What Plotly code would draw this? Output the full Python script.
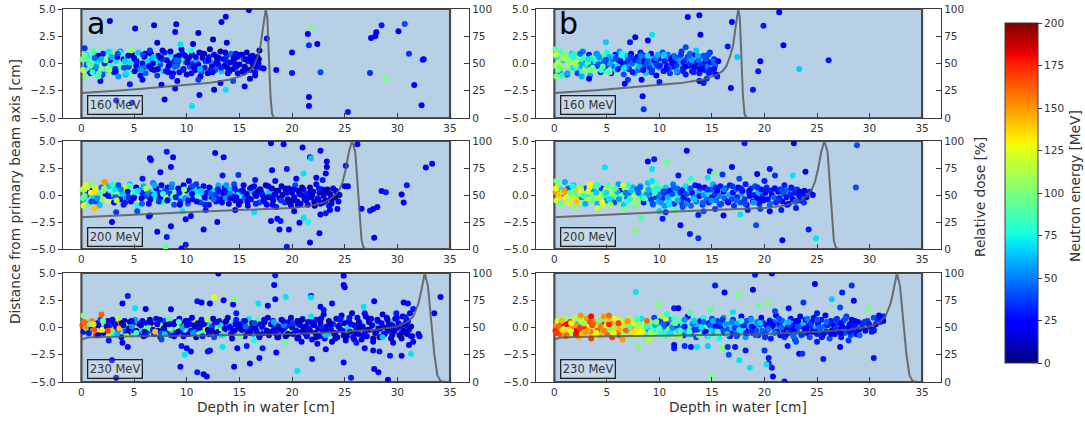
import plotly.graph_objects as go

W, H = 1085, 424
FONT = "DejaVu Sans"

# ---------------- dose curves (relative dose, %) ----------------
dose_x160 = [0, 2, 4, 6, 8, 10, 12, 13, 14, 15, 15.5, 16, 16.4, 16.7, 17.0, 17.2, 17.35, 17.5, 17.65, 17.8, 17.95, 18.1, 18.25, 18.5, 20, 35]
dose_160 = [23, 24, 25.5, 27, 28.5, 30, 32, 33.5, 35, 38, 40, 43, 48, 56, 66, 80, 92, 100, 92, 55, 20, 4, 0.5, 0, 0, 0]
dose_x200 = [0, 2, 5, 10, 15, 18, 20, 21, 22, 23, 23.5, 24, 24.5, 24.8, 25.1, 25.4, 25.7, 26.0, 26.2, 26.4, 26.6, 26.8, 27, 35]
dose_200 = [29.5, 30.5, 31.5, 34, 36, 37, 38, 39, 40.5, 43, 45.5, 49, 55, 62, 74, 90, 100, 90, 62, 30, 8, 1, 0, 0]
dose_x230 = [0, 0.5, 1, 3, 5, 10, 15, 20, 25, 28, 29, 30, 30.5, 31, 31.5, 32, 32.3, 32.6, 32.9, 33.2, 33.5, 33.8, 34.1, 34.5, 35]
dose_230 = [39, 40.5, 41, 41.5, 42, 42.5, 43, 44, 46, 48, 49.5, 51, 53, 55.5, 60, 72, 85, 100, 88, 60, 26, 6, 1, 0, 0]

# ---------------- (a) 160 MeV ----------------
a160_bx = [0.1, 0.2, 0.3, 0.5, 0.6, 0.8, 0.9, 1.0, 1.2, 1.3,
           1.5, 1.6, 1.8, 1.9, 2.1, 2.2, 2.4, 2.5, 2.7, 2.8,
           3.0, 3.1, 3.3, 3.4, 3.6, 3.7, 3.9, 4.0, 4.2, 4.3,
           4.5, 4.6, 4.8, 4.9, 5.1, 5.2, 5.4, 5.5, 5.7, 5.8,
           6.0, 6.1, 6.3, 6.4, 6.6, 6.7, 6.9, 7.0, 7.2, 7.3,
           7.5, 7.6, 7.8, 7.9, 8.1, 8.2, 8.4, 8.5, 8.7, 8.8,
           9.0, 9.1, 9.3, 9.4, 9.6, 9.7, 9.9, 10.0, 10.2, 10.3,
           10.5, 10.6, 10.8, 10.9, 11.1, 11.2, 11.4, 11.5, 11.7, 11.8,
           12.0, 12.1, 12.3, 12.4, 12.6, 12.7, 12.9, 13.0, 13.2, 13.3,
           13.5, 13.6, 13.8, 13.9, 14.1, 14.2, 14.4, 14.5, 14.7, 14.8,
           15.0, 15.1, 15.3, 15.4, 15.5, 15.7, 15.8, 16.0, 16.1, 16.3,
           16.4, 16.5, 16.7, 16.8, 16.9, 17.0, 0.4, 1.1, 2.0, 2.6,
           3.5, 4.7, 5.6, 6.5, 7.7, 8.6, 9.5, 10.4, 11.3, 12.2,
           0.7, 1.4, 2.3, 3.2, 4.1, 5.0, 5.9, 6.8, 7.4, 8.3, 9.2, 10.1, 11.0, 11.9, 12.8, 13.7, 14.6, 15.6, 16.2, 16.6]
a160_by = [0.4, -0.5, 0.9, -0.1, 0.6, -0.9, 0.2, -0.4, 1.0, -0.7,
           0.1, 0.7, -0.3, -1.1, 0.5, 0.0, -0.6, 0.8, 0.3, -0.2,
           0.9, -0.8, 0.2, 0.6, -0.4, 1.1, -0.1, 0.4, -1.0, 0.7,
           -0.3, 0.1, 0.8, -0.7, 0.3, -0.2, 1.0, -0.5, 0.5, 0.0,
           0.6, -0.9, 0.2, -0.3, 0.9, 0.4, -0.6, 0.1, -1.1, 0.7,
           -0.1, 0.5, -0.7, 1.0, 0.3, -0.4, 0.0, 0.8, -0.9, 0.2,
           0.6, -0.2, -0.8, 0.4, 0.9, -0.5, 0.1, -1.0, 0.5, -0.3,
           0.8, 0.0, -0.6, 0.3, -0.1, 1.0, -0.8, 0.5, -0.4, 0.2,
           -0.9, 0.6, 0.1, -0.3, 0.8, -0.6, 0.3, -0.1, 1.1, -0.7,
           0.4, -0.2, 0.7, -0.9, 0.1, 0.9, -0.5, 0.3, -0.3, 0.6,
           -0.1, 0.8, -0.7, 0.4, -0.3, 1.0, 0.2, -0.6, 0.5, -0.2,
           0.3, -0.8, 0.6, 0.0, 1.2, -0.4, -1.2, 1.2, -1.0, 1.1,
           -1.2, 1.2, -1.1, 1.2, 1.2, -1.2, 1.3, 1.2, -1.2, 1.3,
           0.0, -0.3, 0.3, -0.5, 0.2, 0.5, -0.4, 0.0, 0.3, -0.2, 0.2, 0.4, -0.3, 0.2, 0.0, 0.3, -0.1, 0.4, 0.1, -0.3]
a160_be = [95, 60, 110, 40, 75, 20, 100, 50, 85, 30,
           70, 15, 105, 45, 90, 35, 65, 100, 25, 80,
           100, 30, 70, 20, 85, 45, 95, 15, 60, 75,
           35, 70, 10, 100, 50, 20, 65, 40, 90, 25,
           15, 45, 70, 30, 20, 60, 10, 80, 35, 25,
           40, 15, 65, 30, 20, 50, 10, 70, 25, 35,
           15, 45, 20, 75, 30, 10, 55, 25, 15, 40,
           20, 35, 10, 60, 25, 15, 45, 20, 30, 10,
           15, 30, 50, 10, 25, 40, 15, 20, 10, 65,
           25, 10, 35, 20, 15, 45, 10, 30, 20, 15,
           10, 25, 15, 40, 20, 10, 30, 15, 20, 10,
           15, 25, 10, 20, 15, 30, 100, 90, 40, 70,
           55, 105, 20, 35, 15, 30, 20, 75, 25, 10,
           80, 55, 100, 30, 65, 10, 45, 25, 60, 15, 35, 20, 10, 40, 15, 30, 20, 10, 25, 15]
a160_cx = [0.15, 0.45, 0.85, 1.25, 1.65, 2.05, 2.45, 2.85, 3.25, 3.65,
           4.05, 4.45, 4.85, 5.25, 5.65, 6.05, 6.45, 6.85, 7.25, 7.65,
           8.05, 8.45, 8.85, 9.25, 9.65, 10.05, 10.45, 10.85, 11.25, 11.65,
           12.05, 12.45, 12.85, 13.25, 13.65, 14.05, 14.45, 14.85, 15.25, 15.65,
           16.05, 16.45, 16.85, 0.35, 1.05, 1.85, 2.65, 3.45, 4.25, 5.05,
           5.85, 6.65, 7.45, 8.25, 9.05, 9.85, 10.65, 11.45, 12.25, 13.05,
           13.85, 14.65, 15.45, 16.25]
a160_cy = [-0.6, 0.8, -0.2, 0.5, -0.9, 0.9, -0.5, 0.6, -0.7, 1.0,
           -0.4, 0.7, -0.8, 0.2, -0.6, 0.9, -0.2, 0.6, -0.5, 0.4,
           -0.7, 1.1, -0.3, 0.7, -0.6, 0.1, -0.9, 0.6, -0.5, 0.9,
           0.3, -0.8, 0.6, -0.4, 1.0, -0.7, 0.5, -0.9, 0.8, -0.5,
           0.6, -0.1, 0.4, 0.7, -0.8, 0.4, -0.6, 0.9, -0.9, -0.7,
           0.8, -0.5, 0.6, -0.8, 0.3, 0.7, -0.3, 0.9, -0.6, 0.5,
           -0.4, 0.9, -0.8, 0.7]
a160_ce = [110, 70, 95, 45, 85, 30, 100, 60, 20, 75,
           40, 15, 90, 30, 55, 10, 25, 65, 15, 35,
           20, 10, 45, 15, 30, 10, 25, 15, 60, 10,
           20, 15, 10, 30, 15, 25, 10, 20, 15, 10,
           15, 20, 10, 100, 80, 60, 110, 40, 70, 20,
           35, 15, 10, 25, 45, 15, 20, 10, 30, 15,
           10, 25, 15, 20]
a160_ox = [2.7, 5.1, 6.9, 9.0, 8.9, 11.1, 13.3, 13.7, 15.9, 12.5, 13.8, 7.2, 9.4, 10.6, 17.6, 17.3, 18.5, 20.0, 20.0, 21.5,
           21.8, 21.6, 22.4, 22.7, 21.6, 21.6, 25.3, 27.4, 27.5, 27.9, 28.0, 28.5, 28.9, 30.1, 30.7, 31.1, 31.6, 32.4, 32.5, 32.3,
           3.3, 4.8, 7.9, 10.5, 11.2, 7.6, 8.9, 12.6, 13.7, 15.5, 13.2, 11.1, 9.1, 5.8, 4.6, 1.8, 14.4, 16.0, 16.5, 0.3, 1.6]
a160_oy = [3.9, 3.2, 3.5, 3.6, 2.9, 2.8, 3.8, 4.3, 4.9, 2.2, 1.9, 1.9, 1.75, 1.8, 2.3, -0.45, -0.6, 1.0, -0.87, 2.7,
           3.3, 1.67, 1.8, -0.8, -3.07, -3.9, -4.45, -0.87, 2.34, 2.5, 2.86, 3.5, -1.4, 2.95, 3.62, 0.9, -1.97, 0.35, 0.4, -3.84,
           -3.4, -3.6, -3.3, -3.9, -2.9, -1.95, -2.3, -2.4, -2.4, -2.1, -1.8, -1.5, -1.6, -1.5, -1.9, -1.6, -1.6, -1.4, -1.1, 1.4, -1.2]
a160_oe = [15, 20, 15, 20, 25, 15, 20, 25, 15, 10, 20, 15, 70, 25, 30, 20, 25, 20, 30, 20,
           100, 35, 15, 40, 20, 25, 30, 35, 20, 25, 20, 30, 100, 20, 40, 35, 25, 30, 25, 20,
           20, 30, 15, 70, 20, 25, 20, 15, 70, 25, 20, 35, 15, 25, 30, 20, 40, 15, 20, 35, 90]

# ---------------- (b) 160 MeV ----------------
b160_bx = [0.1, 0.2, 0.4, 0.5, 0.6, 0.8, 0.9, 1.1, 1.2, 1.3,
           1.5, 1.6, 1.7, 1.9, 2.0, 2.2, 2.3, 2.4, 2.6, 2.7,
           2.9, 3.0, 3.1, 3.3, 3.4, 3.6, 3.7, 3.8, 4.0, 4.1,
           4.3, 4.4, 4.5, 4.7, 4.8, 5.0, 5.1, 5.2, 5.4, 5.5,
           5.7, 5.8, 5.9, 6.1, 6.2, 6.4, 6.5, 6.6, 6.8, 6.9,
           7.1, 7.2, 7.3, 7.5, 7.6, 7.8, 7.9, 8.0, 8.2, 8.3,
           8.5, 8.6, 8.7, 8.9, 9.0, 9.2, 9.3, 9.4, 9.6, 9.7,
           9.9, 10.0, 10.1, 10.3, 10.4, 10.6, 10.7, 10.8, 11.0, 11.1,
           11.3, 11.4, 11.5, 11.7, 11.8, 12.0, 12.1, 12.2, 12.4, 12.5,
           12.7, 12.8, 12.9, 13.1, 13.2, 13.4, 13.5, 13.6, 13.8, 13.9,
           14.1, 14.2, 14.3, 14.5, 14.6, 14.8, 14.9, 15.0, 15.2, 15.3,
           0.3, 0.7, 1.0, 1.4, 1.8, 2.1, 2.5, 2.8, 3.2, 3.5,
           3.9, 4.2, 4.6, 4.9, 5.3, 5.6, 6.0, 6.3, 6.7, 7.0,
           7.4, 7.7, 8.1, 8.4, 8.8, 9.1, 9.5, 9.8, 10.2, 10.5, 10.9, 11.2, 11.6, 11.9, 12.3, 12.6, 13.0, 13.3, 13.7, 14.0, 14.4, 14.7]
b160_by = [-0.2, 0.6, 0.1, -0.8, 1.0, -0.4, 0.3, 0.8, -1.0, 0.0,
           0.5, -0.6, 0.9, -0.1, 0.4, -0.9, 0.7, -0.3, 0.2, 1.1,
           -0.7, 0.3, -0.2, 0.8, -1.1, 0.5, 0.0, -0.5, 0.9, -0.2,
           0.4, -0.8, 0.7, 0.1, -0.4, 1.0, -0.1, 0.6, -0.9, 0.2,
           -0.3, 0.8, -0.6, 0.3, 1.1, -0.1, 0.5, -1.0, 0.0, 0.7,
           -0.5, 0.2, 0.9, -0.8, 0.4, -0.2, 0.6, -0.6, 1.0, 0.1,
           -0.3, 0.7, -0.9, 0.3, -0.1, 0.9, -0.6, 0.4, 0.0, -1.1,
           0.6, -0.4, 0.2, 1.0, -0.7, 0.3, -0.2, 0.8, -0.9, 0.4,
           -0.3, 0.7, 0.0, -0.8, 0.5, -0.1, 1.1, -0.5, 0.3, -1.0,
           0.6, -0.2, 0.9, -0.7, 0.2, 0.8, -0.4, 0.1, -0.9, 0.5,
           -0.1, 0.7, -0.6, 0.3, -0.3, 1.0, 0.1, -0.8, 0.4, -0.2,
           0.0, -1.1, 0.4, 0.2, -0.4, 0.1, -0.1, 0.5, 0.1, -0.3,
           0.2, -0.1, -0.3, 0.3, 0.0, 0.4, -0.2, 0.2, -0.4, 0.3,
           0.0, 0.3, -0.3, 0.2, 0.1, -0.3, 0.3, -0.2, 0.0, 0.2, -0.4, 0.1, -0.2, 0.3, 0.1, -0.1, 0.2, -0.3, 0.3, -0.1, 0.2, -0.4]
b160_be = [100, 70, 115, 45, 90, 105, 60, 95, 35, 110,
           80, 100, 55, 120, 75, 40, 100, 65, 90, 50,
           95, 45, 70, 30, 60, 85, 40, 100, 55, 25,
           70, 35, 90, 50, 20, 75, 40, 60, 30, 85,
           45, 25, 70, 35, 55, 20, 80, 40, 30, 65,
           30, 50, 20, 60, 35, 75, 25, 45, 30, 55,
           40, 25, 65, 30, 50, 20, 35, 70, 45, 25,
           35, 55, 20, 40, 30, 60, 25, 45, 35, 20,
           30, 50, 25, 40, 20, 65, 35, 25, 45, 30,
           35, 20, 45, 30, 55, 25, 40, 20, 30, 60,
           25, 40, 30, 20, 50, 35, 25, 40, 30, 45,
           110, 80, 95, 105, 70, 115, 60, 85, 100, 50,
           75, 40, 95, 30, 60, 45, 70, 25, 50, 35,
           45, 30, 60, 20, 40, 55, 25, 35, 70, 30, 40, 20, 35, 55, 25, 40, 30, 20, 45, 35, 25, 50]
b160_cx = [0.15, 0.45, 0.85, 1.25, 1.65, 2.05, 2.45, 2.85, 3.25, 3.65,
           4.05, 4.45, 4.85, 5.25, 5.65, 6.05, 6.45, 6.85, 7.25, 7.65,
           8.05, 8.45, 8.85, 9.25, 9.65, 10.05, 10.45, 10.85, 11.25, 11.65,
           12.05, 12.45, 12.85, 13.25, 13.65, 14.05, 14.45, 14.85, 15.15,
           0.35, 1.05, 1.85, 2.65, 3.45, 4.25, 5.05, 5.85, 6.65, 7.45, 8.25,
           9.05, 9.85, 10.65, 11.45, 12.25, 13.05, 13.85, 14.65]
b160_cy = [0.8, -0.5, 0.5, -0.9, 0.7, -0.2, 0.9, -0.7, 0.4, -0.4,
           0.9, -0.6, 0.3, -0.8, 0.6, -0.5, 0.9, -0.3, 0.6, -0.9,
           0.2, -0.6, 0.7, -0.8, 0.5, -0.2, 0.8, -0.6, 0.5, -0.7,
           0.8, -0.3, 0.5, -0.8, 0.7, -0.5, 0.4, -0.6, 0.2,
           -0.6, 0.6, 0.9, -0.8, -0.6, 0.6, -0.7, 0.5, -0.4, -0.8, 0.7,
           -0.4, 0.8, -0.5, 0.6, -0.7, 0.3, -0.5, 0.8]
b160_ce = [120, 90, 105, 60, 80, 100, 45, 115, 70, 95,
           55, 85, 40, 100, 65, 30, 75, 50, 35, 60,
           45, 25, 70, 35, 50, 30, 65, 40, 25, 55,
           35, 20, 45, 30, 60, 25, 40, 30, 45,
           95, 110, 75, 90, 100, 55, 85, 40, 70, 30, 50,
           35, 60, 25, 45, 30, 55, 20, 40]
b160_ox = [12.7, 13.8, 21.4, 19.9, 16.9, 13.9, 9.3, 8.9, 7.7, 7.2, 4.9, 16.5, 17.4, 21.8, 19.6, 19.4, 23.3, 26.1, 15.2, 14.7,
           15.4, 14.5, 13.8, 14.2, 16.8, 18.9, 8.4, 8.5, 10.0, 8.3, 7.0, 6.7, 3.3, 2.6, 15.5, 15.6, 12.5, 13.5, 0.1, 0.2]
b160_oy = [4.27, 4.42, 4.7, 3.47, 3.8, 2.64, 2.64, 2.1, 2.4, 1.94, 1.94, 1.57, 0.6, 1.67, 0.2, -0.72, -0.5, 0.3, -0.5, -0.87,
           -1.0, -1.4, -1.6, -1.8, -2.25, -2.4, -3.0, -4.2, -1.7, -1.5, -1.5, -1.85, -1.4, -1.2, -1.2, 0.2, 1.5, 1.2, 1.3, -1.2]
b160_oe = [20, 25, 20, 30, 25, 20, 70, 25, 20, 30, 65, 30, 65, 20, 25, 30, 65, 30, 25, 30,
           20, 35, 25, 30, 20, 30, 25, 35, 30, 25, 35, 20, 25, 60, 30, 25, 40, 65, 90, 100]

# ---------------- (a) 200 MeV ----------------
a200_bx = [0.1, 0.2, 0.4, 0.5, 0.7, 0.8, 1.0, 1.1, 1.3, 1.4,
           1.6, 1.7, 1.9, 2.0, 2.2, 2.3, 2.5, 2.6, 2.8, 2.9,
           3.1, 3.2, 3.4, 3.5, 3.7, 3.8, 4.0, 4.1, 4.3, 4.4,
           4.6, 4.7, 4.9, 5.0, 5.2, 5.3, 5.5, 5.6, 5.8, 5.9,
           6.1, 6.2, 6.4, 6.5, 6.7, 6.8, 7.0, 7.1, 7.3, 7.4,
           7.6, 7.7, 7.9, 8.0, 8.2, 8.3, 8.5, 8.6, 8.8, 8.9,
           9.1, 9.2, 9.4, 9.5, 9.7, 9.8, 10.0, 10.1, 10.3, 10.4,
           10.6, 10.7, 10.9, 11.0, 11.2, 11.3, 11.5, 11.6, 11.8, 11.9,
           12.1, 12.2, 12.4, 12.5, 12.7, 12.8, 13.0, 13.1, 13.3, 13.4,
           13.6, 13.7, 13.9, 14.0, 14.2, 14.3, 14.5, 14.6, 14.8, 14.9,
           15.1, 15.2, 15.4, 15.5, 15.7, 15.8, 16.0, 16.1, 16.3, 16.4,
           16.6, 16.7, 16.9, 17.0, 17.2, 17.3, 17.5, 17.6, 17.8, 17.9,
           18.1, 18.2, 18.4, 18.5, 18.7, 18.8, 19.0, 19.1, 19.3, 19.4,
           19.6, 19.7, 19.9, 20.0, 20.2, 20.3, 20.5, 20.6, 20.8, 20.9,
           21.1, 21.2, 21.4, 21.5, 21.7, 21.8, 22.0, 22.1, 22.3, 22.4,
           22.6, 22.7, 22.9, 23.0, 23.2, 23.3, 23.5, 23.6, 23.8, 23.9,
           24.1, 24.2, 24.4, 24.5, 0.3, 0.9, 1.5, 2.1, 2.7, 3.3,
           3.9, 4.5, 5.1, 5.7, 6.3, 6.9, 7.5, 8.1, 8.7, 9.3, 9.9, 10.5, 11.1, 11.7, 12.3, 12.9, 13.5, 14.1, 14.7, 15.3,
           15.9, 16.5, 17.1, 17.7, 18.3, 18.9, 19.5, 20.1, 20.7, 21.3, 21.9, 22.5, 23.1, 23.7]
a200_by = [0.5, -0.4, 0.9, 0.0, -0.8, 0.4, 1.0, -0.2, 0.6, -0.6,
           0.2, -1.0, 0.7, -0.3, 1.2, 0.1, -0.5, 0.8, -0.1, 0.3,
           -0.7, 0.5, 0.0, 0.9, -0.4, 0.2, -0.9, 0.6, -0.2, 0.3,
           1.0, -0.6, 0.1, -0.2, 0.7, -1.0, 0.4, -0.4, 0.2, 0.8,
           -0.1, 0.5, -0.8, 0.3, 0.0, 1.1, -0.5, 0.6, -0.3, 0.2,
           0.9, -0.7, 0.4, -0.1, 0.7, -0.4, 0.1, 1.0, -0.9, 0.3,
           -0.2, 0.6, -0.6, 0.2, 0.9, -0.3, 0.4, -0.8, 0.0, 0.7,
           -0.4, 0.3, 1.0, -0.1, 0.5, -0.7, 0.1, 0.8, -0.3, 0.2,
           -0.9, 0.6, -0.2, 0.4, 0.0, -0.6, 0.9, 0.3, -0.4, 0.1,
           0.7, -0.3, 0.2, -0.8, 0.5, -0.1, 1.0, -0.5, 0.3, 0.0,
           -0.6, 0.4, 0.9, -0.2, 0.1, -1.0, 0.6, -0.4, 0.2, 0.8,
           -0.1, 0.3, -0.7, 0.5, 0.0, -0.4, 0.9, -0.9, 0.3, -0.2,
           0.6, -0.5, 0.1, -1.1, 0.4, -0.3, 0.8, 0.0, -0.7, 0.3,
           -0.4, 0.6, -1.0, 0.2, -0.2, 0.9, -0.6, 0.4, -0.8, 0.0,
           0.5, -0.4, 0.1, -0.9, 0.7, -0.2, 0.3, -0.6, 1.0, -0.3,
           0.2, -0.8, 0.5, -0.1, -0.5, 0.4, -1.0, 0.1, -0.4, 0.6,
           -0.2, 0.3, -0.6, 0.0, -0.1, 0.2, -0.3, 0.4, 0.0, -0.2,
           0.1, -0.2, 0.3, -0.3, 0.2, 0.0, -0.2, 0.3, -0.1, 0.2, -0.3, 0.1, 0.3, -0.2, 0.1, -0.3, 0.2, 0.1, -0.2, 0.3,
           -0.3, 0.1, 0.2, -0.2, 0.0, -0.3, 0.2, -0.5, 0.1, -0.3, 0.0, -0.4, 0.2, -0.3]
a200_be = [110, 60, 130, 40, 90, 20, 100, 70, 125, 35,
           80, 150, 45, 105, 145, 25, 120, 65, 30, 95,
           20, 70, 110, 40, 15, 85, 30, 120, 55, 25,
           65, 20, 100, 35, 15, 75, 45, 125, 25, 60,
           40, 105, 20, 70, 30, 50, 90, 15, 60, 35,
           25, 80, 45, 115, 20, 65, 30, 55, 40, 100,
           70, 25, 35, 110, 20, 60, 15, 45, 75, 30,
           20, 65, 35, 90, 15, 40, 70, 25, 55, 30,
           25, 45, 15, 70, 35, 20, 60, 30, 15, 40,
           20, 55, 30, 15, 65, 25, 40, 20, 35, 75,
           15, 30, 20, 45, 10, 25, 35, 15, 60, 20,
           25, 10, 40, 20, 15, 30, 10, 25, 65, 15,
           10, 20, 15, 30, 10, 25, 15, 10, 35, 20,
           10, 15, 25, 10, 20, 40, 15, 10, 25, 15,
           20, 10, 30, 15, 10, 25, 15, 10, 20, 35,
           10, 20, 15, 25, 10, 15, 30, 10, 20, 15,
           10, 20, 15, 10, 95, 130, 55, 110, 80, 45,
           65, 35, 80, 25, 50, 70, 20, 40, 95, 30, 55, 25, 70, 20, 45, 30, 15, 50, 25, 40,
           20, 15, 30, 10, 25, 15, 20, 10, 15, 25, 10, 20, 15, 10]
a200_cx = [0.15, 0.55, 0.95, 1.35, 1.75, 2.15, 2.55, 2.95, 3.35, 3.75,
           4.15, 4.55, 4.95, 5.35, 5.75, 6.15, 6.55, 6.95, 7.35, 7.75,
           8.15, 8.55, 8.95, 9.35, 9.75, 10.15, 10.55, 10.95, 11.35, 11.75,
           12.15, 12.55, 12.95, 13.35, 13.75, 14.15, 14.55, 14.95, 15.35, 15.75,
           16.15, 16.55, 16.95, 17.35, 17.75, 18.15, 18.55, 18.95, 19.35, 19.75,
           20.15, 20.55, 20.95, 21.35, 21.75, 22.15, 22.55, 22.95, 23.35, 23.75,
           24.15]
a200_cy = [-0.3, 0.7, -0.6, 0.3, -0.9, 0.6, -0.1, 1.0, -0.5, 0.5,
           -0.7, 0.8, -0.3, 0.4, -0.8, 0.6, -0.4, 0.9, -0.6, 0.1,
           -0.5, 0.7, -0.2, -0.9, 0.5, -0.5, 0.8, -0.6, 0.4, -0.9,
           0.7, -0.4, 0.5, -0.7, 0.9, -0.3, 0.6, -0.9, 0.4, -0.6,
           0.7, -0.8, 0.5, -0.6, 0.8, -0.9, 0.4, -0.5, 0.6, -0.7,
           0.5, -0.9, 0.7, -0.5, 0.3, -1.0, 0.6, -0.7, 0.5, -0.8,
           0.4]
a200_ce = [90, 120, 40, 135, 65, 100, 25, 80, 115, 50,
           30, 95, 20, 70, 45, 110, 25, 60, 35, 85,
           20, 50, 30, 15, 100, 25, 40, 20, 65, 30,
           15, 45, 25, 20, 55, 15, 30, 10, 25, 20,
           15, 30, 10, 25, 15, 20, 10, 35, 15, 10,
           20, 15, 10, 25, 15, 10, 30, 15, 10, 20,
           15]
a200_ox = [6.5, 6.6, 8.1, 8.7, 8.5, 7.5, 12.7, 13.5, 13.4, 14.9, 18.0, 19.2, 18.1, 19.5, 21.0, 21.7, 21.8, 22.7, 23.3, 23.3,
           21.1, 22.3, 23.2, 25.1, 26.2, 26.6, 27.4, 27.7, 28.1, 28.5, 28.9, 30.4, 30.6, 30.9, 27.8, 32.7, 33.3, 25.0, 25.3, 9.6,
           9.9, 10.4, 11.6, 12.9, 8.1, 7.2, 8.5, 6.4, 6.5, 2.9, 3.3, 9.9, 9.5, 8.0, 18.0, 18.6, 18.9, 18.8, 19.7, 19.5,
           20.7, 21.1, 21.5, 21.7, 22.6, 22.7, 23.2, 23.6, 5.3, 11.8, 14.6, 16.4, 20.2, 24.3, 2.2, 5.8, 10.2, 16.5, 18.4, 20.4,
           22.9, 0.2, 1.2]
a200_oy = [3.4, 3.25, 4.0, 3.5, 2.6, 2.1, 3.9, 3.5, 1.8, 1.85, 4.8, 4.7, 2.3, 2.4, 4.4, 3.5, 3.4, 4.1, 3.1, 2.6,
           2.0, 1.6, 2.0, 2.7, 4.7, -1.27, -1.45, -1.3, -1.1, 0.37, 0.25, 0.05, -0.7, 0.9, -3.95, 2.55, 2.9, 0.8, 0.8, -1.5,
           -2.25, -1.95, -3.2, -2.5, -3.9, -3.4, -2.9, -2.0, -1.9, -2.5, -1.6, -4.6, -4.95, -4.8, -2.4, -2.2, -2.4, -3.2, -3.2, -4.8,
           -2.56, -2.1, -2.5, -4.4, -3.55, -1.8, -1.7, -1.4, -1.5, -1.4, -1.4, -1.6, -1.5, -1.3, 1.2, 1.5, 1.3, 1.4, 1.3, 1.5,
           1.4, -1.0, -1.2]
a200_oe = [20, 25, 30, 20, 25, 20, 20, 25, 30, 35, 20, 25, 20, 30, 20, 25, 65, 20, 25, 20,
           70, 25, 20, 30, 25, 20, 30, 25, 20, 25, 30, 20, 25, 30, 25, 20, 25, 20, 25, 70,
           25, 20, 25, 20, 30, 25, 20, 30, 25, 20, 35, 30, 25, 95, 20, 25, 30, 20, 25, 30,
           20, 70, 75, 25, 20, 25, 30, 20, 40, 30, 25, 70, 20, 25, 150, 30, 25, 30, 20, 25,
           30, 120, 140]

# ---------------- (b) 200 MeV ----------------
b200_bx = [0.1, 0.2, 0.3, 0.5, 0.6, 0.7, 0.9, 1.0, 1.1, 1.3,
           1.4, 1.5, 1.7, 1.8, 1.9, 2.1, 2.2, 2.3, 2.5, 2.6,
           2.7, 2.9, 3.0, 3.1, 3.3, 3.4, 3.5, 3.7, 3.8, 3.9,
           4.1, 4.2, 4.3, 4.5, 4.6, 4.7, 4.9, 5.0, 5.1, 5.3,
           5.4, 5.5, 5.7, 5.8, 5.9, 6.1, 6.2, 6.3, 6.5, 6.6,
           6.7, 6.9, 7.0, 7.1, 7.3, 7.4, 7.5, 7.7, 7.8, 7.9,
           8.1, 8.2, 8.3, 8.5, 8.6, 8.7, 8.9, 9.0, 9.1, 9.3,
           9.4, 9.5, 9.7, 9.8, 9.9, 10.1, 10.2, 10.3, 10.5, 10.6,
           10.7, 10.9, 11.0, 11.1, 11.3, 11.4, 11.5, 11.7, 11.8, 11.9,
           12.1, 12.2, 12.3, 12.5, 12.6, 12.7, 12.9, 13.0, 13.1, 13.3,
           13.4, 13.5, 13.7, 13.8, 13.9, 14.1, 14.2, 14.3, 14.5, 14.6,
           14.7, 14.9, 15.0, 15.1, 15.3, 15.4, 15.5, 15.7, 15.8, 15.9,
           16.1, 16.2, 16.3, 16.5, 16.6, 16.7, 16.9, 17.0, 17.1, 17.3,
           17.4, 17.5, 17.7, 17.8, 17.9, 18.1, 18.2, 18.3, 18.5, 18.6,
           18.7, 18.9, 19.0, 19.1, 19.3, 19.4, 19.5, 19.7, 19.8, 19.9,
           20.1, 20.2, 20.3, 20.5, 20.6, 20.7, 20.9, 21.0, 21.1, 21.3,
           21.4, 21.5, 21.7, 21.8, 21.9, 22.1, 22.2, 22.3, 22.5, 22.6,
           22.7, 22.9, 23.0, 23.1, 23.3, 23.4, 23.5, 23.7, 23.8, 24.0,
           0.4, 0.8, 1.2, 1.6, 2.0, 2.4, 2.8, 3.2, 3.6, 4.0, 4.4, 4.8, 5.2, 5.6, 6.0,
           6.4, 6.8, 7.2, 7.6, 8.0, 8.4, 8.8, 9.2, 9.6, 10.0, 10.4, 10.8, 11.2, 11.6, 12.0]
b200_by = [0.3, -0.5, 0.8, -0.1, 0.5, -0.9, 0.1, 1.1, -0.3, 0.6,
           -0.7, 0.2, -0.2, 0.9, -1.1, 0.4, 0.0, -0.6, 0.7, -0.2,
           0.3, -0.9, 0.6, -0.4, 0.1, 1.0, -0.6, 0.4, -0.1, 0.8,
           -0.8, 0.2, -0.3, 0.6, -1.0, 0.0, 0.5, -0.5, 0.9, 0.1,
           -0.3, 0.7, -0.7, 0.3, -0.1, 1.0, -0.5, 0.4, 0.0, -0.9,
           0.6, -0.2, 0.9, -0.6, 0.2, -0.3, 0.7, -1.0, 0.1, 0.5,
           -0.4, 0.8, 0.0, -0.7, 0.4, -0.1, 1.1, -0.5, 0.2, 0.6,
           -0.9, 0.3, -0.2, 0.9, -0.6, 0.1, 0.5, -0.3, -1.0, 0.7,
           0.0, -0.5, 0.4, -0.1, 1.0, -0.8, 0.2, 0.6, -0.3, 0.0,
           -0.7, 0.5, -0.2, 0.8, 0.1, -0.5, 0.4, -1.0, 0.2, -0.2,
           0.9, -0.6, 0.3, -0.1, 0.6, -0.9, 0.0, 0.7, -0.4, 0.2,
           -0.7, 0.5, -0.2, 1.0, 0.1, -0.5, 0.4, -0.1, 0.8, -0.8,
           0.3, -0.3, 0.6, -0.6, 0.0, 0.9, -0.4, 0.2, -1.0, 0.5,
           -0.2, 0.7, -0.7, 0.1, 0.4, -0.4, 1.0, -0.9, 0.2, -0.1,
           0.6, -0.6, 0.0, 0.8, -0.3, 0.3, -0.8, 0.5, -0.1, -0.5,
           0.2, 0.7, -0.4, -0.9, 0.4, 0.0, -0.2, 0.6, -0.7, 0.3,
           -0.3, 0.5, -0.6, 0.1, 0.9, -0.2, 0.4, -0.8, 0.0, 0.6,
           -0.4, 0.2, -0.6, 0.5, -0.1, 0.3, -0.5, 0.1, 0.4, -0.2,
           0.0, 0.3, -0.2, 0.2, -0.4, 0.1, -0.1, 0.3, 0.0, 0.2, -0.2, 0.3, -0.4, 0.1, 0.3,
           -0.1, 0.2, -0.3, 0.0, 0.2, -0.2, 0.1, -0.4, 0.2, -0.1, 0.3, -0.2, 0.1, -0.4, 0.2]
b200_be = [150, 120, 100, 135, 70, 110, 160, 95, 125, 45,
           130, 85, 115, 60, 105, 140, 75, 120, 100, 50,
           125, 90, 40, 115, 70, 130, 100, 55, 120, 85,
           60, 125, 95, 35, 110, 75, 130, 50, 90, 115,
           70, 100, 40, 120, 85, 55, 105, 30, 95, 65,
           110, 45, 80, 100, 35, 115, 60, 90, 70, 40,
           95, 55, 75, 30, 105, 45, 65, 85, 40, 100,
           50, 70, 35, 90, 60, 45, 75, 30, 55, 65,
           40, 70, 25, 85, 50, 35, 65, 45, 30, 75,
           35, 55, 25, 70, 40, 30, 60, 45, 20, 50,
           30, 45, 65, 25, 40, 35, 55, 20, 45, 70,
           30, 40, 25, 60, 35, 45, 20, 50, 30, 40,
           25, 45, 35, 20, 60, 30, 40, 25, 35, 45,
           30, 20, 40, 55, 25, 35, 30, 20, 45, 25,
           35, 20, 30, 40, 25, 60, 30, 20, 35, 25,
           20, 35, 25, 40, 30, 20, 45, 25, 30, 20,
           25, 35, 20, 40, 30, 25, 45, 20, 30, 35,
           20, 30, 25, 35, 20, 60, 25, 30, 20, 25,
           140, 110, 125, 90, 135, 105, 80, 120, 100, 65, 115, 85, 70, 105, 60,
           95, 50, 80, 110, 45, 70, 55, 35, 90, 50, 25, 60, 40, 80, 30]
b200_cx = [0.15, 0.55, 0.95, 1.35, 1.75, 2.15, 2.55, 2.95, 3.35, 3.75,
           4.15, 4.55, 4.95, 5.35, 5.75, 6.15, 6.55, 6.95, 7.35, 7.75,
           8.15, 8.55, 8.95, 9.35, 9.75, 10.15, 10.55, 10.95, 11.35, 11.75,
           12.15, 12.55, 12.95, 13.35, 13.75, 14.15, 14.55, 14.95, 15.35, 15.75,
           16.15, 16.55, 16.95, 17.35, 17.75, 18.15, 18.55, 18.95, 19.35, 19.75,
           20.15, 20.55, 20.95, 21.35, 21.75, 22.15, 22.55, 22.95, 23.35, 23.75]
b200_cy = [0.6, -0.8, 0.4, -0.4, 0.8, -0.6, 0.5, -0.8, 0.7, -0.3,
           0.9, -0.7, 0.2, -0.9, 0.6, -0.4, 0.9, -0.6, 0.4, -0.8,
           0.7, -0.3, 0.5, -0.8, 0.6, -0.7, 0.3, -0.9, 0.7, -0.5,
           0.4, -0.8, 0.6, -0.4, 0.8, -0.7, 0.5, -0.5, 0.7, -0.9,
           0.5, -0.7, 0.8, -0.5, 0.6, -0.8, 0.4, -0.7, 0.7, -0.4,
           0.5, -0.8, 0.6, -0.5, 0.4, -0.9, 0.7, -0.6, 0.3, -0.7]
b200_ce = [130, 95, 150, 110, 75, 140, 120, 60, 130, 100,
           85, 125, 70, 110, 95, 55, 120, 80, 65, 105,
           45, 90, 60, 40, 75, 55, 35, 70, 45, 60,
           30, 50, 40, 65, 25, 45, 35, 55, 30, 40,
           50, 25, 35, 45, 30, 40, 25, 55, 35, 20,
           30, 45, 25, 35, 40, 20, 30, 45, 25, 35]
b200_ox = [4.8, 8.9, 9.5, 9.3, 10.7, 12.6, 9.3, 11.8, 14.8, 15.2, 16.0, 16.9, 18.1, 22.8, 28.8, 20.5, 19.3, 21.0, 22.7, 23.9,
           28.7, 24.3, 24.6, 13.0, 17.6, 20.0, 14.6, 8.3, 7.7, 10.3, 12.0, 12.9, 13.7, 19.2, 21.7, 24.2, 24.9, 20.5, 21.6, 16.1,
           17.7, 12.2, 13.7, 10.0, 10.6, 11.5, 14.2, 15.3, 18.4, 19.6, 23.0, 4.1, 6.7, 1.0, 0.2]
b200_oy = [2.56, 3.1, 3.3, 2.4, 3.0, 4.1, 1.3, 1.8, 2.2, 2.0, 1.9, 2.6, 4.8, 4.8, 4.6, 2.4, 1.95, 1.8, 1.8, 2.16,
           0.7, 0.3, 0.0, 1.5, 1.5, 1.3, 1.6, -2.1, -3.3, -2.2, -2.8, -3.6, -4.0, -2.8, -4.2, -3.2, -4.0, -1.5, -1.4, -1.9,
           -1.8, -1.1, -1.85, -1.5, -1.6, -1.4, -1.5, -1.3, -1.4, -1.3, -1.2, -1.2, -1.3, 1.2, 1.3]
b200_oe = [70, 25, 30, 70, 95, 25, 70, 30, 30, 95, 35, 25, 30, 20, 40, 30, 20, 35, 70, 20,
           40, 30, 25, 80, 40, 30, 70, 90, 100, 30, 25, 30, 35, 40, 25, 30, 70, 25, 30, 25,
           70, 40, 30, 65, 35, 90, 40, 35, 30, 40, 30, 120, 100, 60, 100]

# ---------------- (a) 230 MeV ----------------
a230_bx = [0.1, 0.2, 0.3, 0.5, 0.6, 0.7, 0.9, 1.0, 1.1, 1.3,
           1.4, 1.5, 1.7, 1.8, 1.9, 2.1, 2.2, 2.3, 2.5, 2.6,
           2.7, 2.9, 3.0, 3.1, 3.3, 3.4, 3.5, 3.7, 3.8, 3.9,
           4.1, 4.2, 4.3, 4.5, 4.6, 4.7, 4.9, 5.0, 5.1, 5.3,
           5.4, 5.5, 5.7, 5.8, 5.9, 6.1, 6.2, 6.3, 6.5, 6.6,
           6.7, 6.9, 7.0, 7.1, 7.3, 7.4, 7.5, 7.7, 7.8, 7.9,
           8.1, 8.2, 8.3, 8.5, 8.6, 8.7, 8.9, 9.0, 9.1, 9.3,
           9.4, 9.5, 9.7, 9.8, 9.9, 10.1, 10.2, 10.3, 10.5, 10.6,
           10.7, 10.9, 11.0, 11.1, 11.3, 11.4, 11.5, 11.7, 11.8, 11.9,
           12.1, 12.2, 12.3, 12.5, 12.6, 12.7, 12.9, 13.0, 13.1, 13.3,
           13.4, 13.5, 13.7, 13.8, 13.9, 14.1, 14.2, 14.3, 14.5, 14.6,
           14.7, 14.9, 15.0, 15.1, 15.3, 15.4, 15.5, 15.7, 15.8, 15.9,
           16.1, 16.2, 16.3, 16.5, 16.6, 16.7, 16.9, 17.0, 17.1, 17.3,
           17.4, 17.5, 17.7, 17.8, 17.9, 18.1, 18.2, 18.3, 18.5, 18.6,
           18.7, 18.9, 19.0, 19.1, 19.3, 19.4, 19.5, 19.7, 19.8, 19.9,
           20.1, 20.2, 20.3, 20.5, 20.6, 20.7, 20.9, 21.0, 21.1, 21.3,
           21.4, 21.5, 21.7, 21.8, 21.9, 22.1, 22.2, 22.3, 22.5, 22.6,
           22.7, 22.9, 23.0, 23.1, 23.3, 23.4, 23.5, 23.7, 23.8, 23.9,
           24.1, 24.2, 24.3, 24.5, 24.6, 24.7, 24.9, 25.0, 25.1, 25.3,
           25.4, 25.5, 25.7, 25.8, 25.9, 26.1, 26.2, 26.3, 26.5, 26.6,
           26.7, 26.9, 27.0, 27.1, 27.3, 27.4, 27.5, 27.7, 27.8, 27.9,
           28.1, 28.2, 28.3, 28.5, 28.6, 28.7, 28.9, 29.0, 29.1, 29.3,
           29.4, 29.5, 29.7, 29.8, 29.9, 30.1, 30.2, 30.3, 30.5, 30.6,
           30.7, 30.9, 31.0, 31.1, 31.3, 31.4, 0.4, 0.8, 1.2, 1.6,
           2.0, 2.4, 2.8, 3.2, 3.6, 4.0, 4.4, 4.8, 5.2, 5.6, 6.0, 6.4, 6.8, 7.2, 7.6, 8.0, 8.4, 8.8, 9.2, 9.6,
           10.0, 10.4, 10.8, 11.2, 11.6, 12.0, 12.4, 12.8, 13.2, 13.6, 14.0, 14.4, 14.8, 15.2, 15.6, 16.0, 16.4, 16.8, 17.2, 17.6,
           18.0, 18.4, 18.8, 19.2, 19.6, 20.0, 20.4, 20.8, 21.2, 21.6, 22.0, 22.4, 22.8, 23.2, 23.6, 24.0, 24.4, 24.8, 25.2, 25.6,
           26.0, 26.4, 26.8, 27.2, 27.6, 28.0, 28.4, 28.8, 29.2, 29.6, 30.0, 30.4, 30.8]
a230_by = [0.2, -0.4, 0.5, -0.1, 0.3, -0.6, 0.0, 0.6, -0.3, 0.1,
           -0.7, 0.4, -0.2, 0.7, 0.0, -0.5, 0.3, -0.1, 0.6, -0.8,
           0.2, -0.3, 0.5, -0.6, 0.1, 0.8, -0.2, 0.4, -0.9, 0.0,
           0.6, -0.4, 0.2, -0.1, 0.5, -0.7, 0.3, -0.3, 0.7, 0.0,
           -0.5, 0.3, -0.2, 0.6, -0.8, 0.1, 0.4, -0.4, 0.7, -0.1,
           0.3, -0.6, 0.0, 0.8, -0.3, 0.5, -0.9, 0.2, -0.1, 0.6,
           -0.4, 0.1, 0.7, -0.7, 0.3, -0.2, 0.5, -0.5, 0.0, 0.8,
           -0.3, 0.4, -0.8, 0.1, 0.6, -0.1, -0.6, 0.3, 0.9, -0.4,
           0.2, -0.9, 0.5, -0.2, 0.0, 0.7, -0.5, 0.3, -0.1, 0.6,
           -0.6, 0.2, -0.3, 0.8, -0.9, 0.4, 0.0, -0.4, 0.6, -0.1,
           0.3, -0.7, 0.5, -0.2, 0.9, -0.5, 0.1, -1.0, 0.4, -0.3,
           0.7, 0.0, -0.6, 0.3, -0.2, 0.6, -0.8, 0.2, -0.4, 0.8,
           -0.1, 0.4, -0.6, 0.1, -0.3, 0.7, -0.9, 0.3, 0.0, -0.5,
           0.5, -0.2, 0.9, -0.7, 0.2, -0.4, 0.6, -0.1, 0.3, -0.9,
           0.1, -0.5, 0.7, -0.2, 0.4, -0.8, 0.0, 0.5, -0.3, 0.9,
           -0.6, 0.2, -0.1, 0.6, -0.9, 0.3, -0.4, 0.8, -0.2, 0.1,
           -0.7, 0.5, -0.3, 1.0, -1.1, 0.2, -0.5, 0.7, -0.1, -0.8,
           0.4, -0.3, 1.2, -1.0, 0.1, -0.6, 0.6, -0.2, -1.3, 0.3,
           -0.5, 0.8, -0.9, 0.2, -0.2, 1.1, -0.7, 0.4, -1.2, 0.0,
           0.6, -0.4, 1.3, -0.9, 0.2, -0.1, 0.9, -0.6, 0.4, -1.1,
           0.1, -0.4, 1.0, -0.8, 0.5, -0.2, 0.8, -1.3, 0.2, -0.5,
           0.7, -0.1, -0.9, 0.4, 1.2, -0.6, 0.0, 0.9, -0.3, 0.5,
           -1.0, 0.2, -0.4, 0.8, -0.1, 0.4, -0.7, 0.1, 1.0, -0.3,
           0.3, -0.6, 0.6, -0.2, 0.1, -0.8, 0.0, 0.3, -0.2, 0.2,
           -0.2, 0.1, -0.4, 0.3, -0.1, 0.2, -0.5, 0.1, -0.3, 0.4, -0.4, 0.0, -0.2, 0.3, -0.5, 0.2, -0.1, 0.3, -0.4, 0.0,
           0.2, -0.3, 0.1, -0.6, 0.3, -0.2, 0.1, -0.5, 0.2, -0.1, 0.0, -0.3, 0.3, -0.2, 0.1, -0.4, 0.2, -0.6, 0.1, -0.3,
           0.3, -0.5, -0.1, 0.2, -0.6, 0.0, -0.3, 0.2, -0.5, -0.1, 0.3, -0.7, 0.0, -0.4, 0.2, -0.6, 0.1, -0.3, -0.8, 0.3,
           -0.5, 0.0, -0.7, -0.2, 0.2, -0.4, -0.1, -0.6, 0.3, -0.2, 0.0, -0.5, 0.2]
a230_be = [170, 20, 140, 100, 185, 60, 15, 155, 110, 30,
           175, 25, 130, 40, 160, 20, 95, 180, 15, 120,
           35, 145, 20, 75, 10, 110, 30, 165, 25, 60,
           15, 40, 125, 20, 10, 85, 30, 15, 55, 135,
           20, 10, 70, 25, 15, 110, 20, 40, 10, 95,
           15, 30, 120, 20, 10, 65, 25, 105, 15, 40,
           20, 10, 90, 35, 15, 70, 25, 10, 115, 20,
           40, 15, 25, 100, 20, 75, 10, 30, 15, 60,
           20, 10, 110, 35, 15, 25, 80, 10, 130, 20,
           15, 70, 25, 10, 40, 20, 95, 15, 30, 120,
           10, 75, 20, 35, 15, 100, 25, 10, 65, 20,
           30, 15, 85, 20, 10, 40, 25, 115, 15, 70,
           20, 10, 60, 30, 15, 90, 20, 10, 45, 25,
           15, 70, 20, 10, 105, 30, 15, 25, 60, 20,
           10, 40, 20, 15, 75, 10, 30, 20, 95, 15,
           20, 10, 65, 15, 25, 10, 20, 40, 15, 10,
           15, 25, 10, 70, 20, 15, 10, 30, 15, 20,
           10, 20, 15, 25, 10, 65, 15, 20, 10, 35,
           15, 10, 20, 30, 10, 15, 25, 10, 20, 70,
           15, 20, 10, 25, 15, 30, 20, 10, 65, 15,
           10, 25, 15, 20, 10, 35, 15, 20, 70, 10,
           15, 20, 10, 25, 15, 30, 10, 20, 15, 65,
           10, 20, 25, 10, 15, 20, 10, 30, 15, 10,
           20, 10, 15, 25, 10, 20, 150, 95, 165, 20,
           125, 15, 90, 25, 140, 20, 10, 55, 15, 30, 10, 85, 20, 15, 40, 10, 105, 20, 10, 60,
           15, 25, 10, 95, 20, 10, 35, 15, 70, 10, 25, 15, 20, 10, 45, 15, 10, 30, 20, 10,
           15, 25, 10, 50, 15, 10, 20, 15, 10, 25, 10, 15, 30, 10, 20, 10, 15, 25, 10, 20,
           15, 10, 30, 10, 15, 20, 10, 25, 15, 10, 20, 10, 15]
a230_cx = [0.25, 0.7, 1.15, 1.6, 2.05, 2.5, 2.95, 3.4, 3.85, 4.3,
           4.75, 5.2, 5.65, 6.1, 6.55, 7.0, 7.45, 7.9, 8.35, 8.8,
           9.25, 9.7, 10.15, 10.6, 11.05, 11.5, 11.95, 12.4, 12.85, 13.3,
           13.75, 14.2, 14.65, 15.1, 15.55, 16.0, 16.45, 16.9, 17.35, 17.8,
           18.25, 18.7, 19.15, 19.6, 20.05, 20.5, 20.95, 21.4, 21.85, 22.3,
           22.75, 23.2, 23.65, 24.1, 24.55, 25.0, 25.45, 25.9, 26.35, 26.8,
           27.25, 27.7, 28.15, 28.6, 29.05, 29.5, 29.95, 30.4, 30.85, 31.3]
a230_cy = [0.5, -0.5, 0.3, -0.7, 0.6, -0.3, 0.7, -0.6, 0.4, -0.8,
           0.6, -0.5, 0.2, -0.7, 0.5, -0.4, 0.7, -0.6, 0.3, -0.8,
           0.5, -0.7, 0.6, -0.5, 0.4, -0.8, 0.7, -0.3, 0.5, -0.7,
           0.6, -0.6, 0.3, -0.8, 0.6, -0.5, 0.4, -0.8, 0.7, -0.4,
           0.5, -0.9, 0.6, -0.6, 0.4, -1.0, 0.7, -0.8, 0.5, -0.9,
           0.8, -0.7, 0.4, -1.0, 0.7, -0.8, 0.9, -1.1, 0.5, -0.8,
           0.8, -1.0, 0.6, -0.9, 0.7, -0.7, 0.9, -1.0, 0.5, -0.8]
a230_ce = [160, 30, 135, 15, 95, 170, 20, 60, 10, 115,
           20, 85, 15, 30, 10, 140, 20, 65, 10, 25,
           90, 15, 20, 55, 10, 30, 110, 15, 20, 70,
           10, 25, 15, 95, 20, 10, 40, 15, 25, 10,
           60, 15, 20, 10, 35, 15, 10, 25, 15, 10,
           20, 65, 10, 15, 20, 10, 30, 15, 10, 25,
           15, 10, 20, 65, 10, 15, 25, 10, 20, 15]
a230_ox = [3.9, 4.4, 5.1, 6.1, 8.5, 11.0, 11.4, 12.2, 12.6, 13.0, 13.5, 14.4, 14.5, 14.7, 16.8, 17.7, 18.3, 18.4, 18.4, 19.4,
           21.8, 21.8, 22.7, 23.0, 23.8, 24.9, 25.0, 24.9, 24.6, 26.8, 27.8, 26.9, 29.9, 30.6, 31.0, 30.8, 32.1, 32.0, 33.5, 34.1,
           31.5, 31.2, 1.9, 0.2, 3.9, 4.4, 2.6, 2.9, 3.3, 9.5, 10.0, 10.4, 9.8, 9.4, 11.0, 11.6, 11.9, 12.2, 12.0, 13.4,
           14.5, 14.8, 15.7, 16.0, 16.9, 17.2, 18.5, 20.5, 21.9, 23.2, 24.9, 25.6, 26.9, 27.7, 28.3, 27.8, 28.2, 29.1, 29.3, 30.4,
           31.3, 31.1, 31.5, 19.4, 20.9, 22.4, 26.1, 29.6, 7.6, 16.4]
a230_oy = [2.2, 2.9, 1.77, 1.7, 1.67, 2.4, 2.3, 2.2, 2.8, 4.95, 2.5, 2.1, 2.6, 1.3, 2.2, 2.0, 3.9, 4.8, 2.6, 2.8,
           2.9, 2.75, 1.9, 1.6, 2.2, 3.9, 3.7, 4.75, 0.8, 1.9, 2.4, 1.3, 1.3, 2.3, 2.2, 0.95, -0.8, -0.6, 1.3, 2.8,
           1.7, 1.3, 1.2, 1.1, -1.4, -1.8, -1.2, -3.0, -4.6, -1.7, -1.9, -2.2, -2.5, -3.6, -4.1, -4.3, -4.5, -2.1, -2.2, -1.8,
           -3.6, -1.9, -1.7, -3.3, -2.8, -1.9, -2.3, -4.0, -2.9, -2.0, -3.2, -4.6, -1.9, -2.1, -2.2, -3.8, -4.1, -4.8, -2.6, -2.6,
           -2.4, -1.6, -1.3, -1.4, -1.3, -1.5, -1.4, -1.4, -1.1, -1.2]
a230_oe = [20, 30, 70, 20, 25, 30, 20, 25, 125, 15, 20, 25, 100, 30, 70, 20, 25, 30, 20, 70,
           25, 70, 20, 30, 25, 20, 25, 20, 30, 70, 20, 25, 30, 20, 25, 30, 20, 25, 20, 25,
           30, 20, 160, 100, 20, 25, 30, 20, 25, 30, 20, 25, 70, 20, 30, 25, 20, 25, 30, 70,
           20, 25, 30, 20, 25, 30, 20, 70, 25, 20, 25, 30, 20, 25, 30, 20, 25, 20, 30, 25,
           70, 20, 25, 95, 25, 20, 30, 20, 40, 75]

# ---------------- (b) 230 MeV ----------------
b230_bx = [0.1, 0.2, 0.3, 0.5, 0.6, 0.7, 0.9, 1.0, 1.1, 1.3,
           1.4, 1.5, 1.7, 1.8, 1.9, 2.1, 2.2, 2.3, 2.5, 2.6,
           2.7, 2.9, 3.0, 3.1, 3.3, 3.4, 3.5, 3.7, 3.8, 3.9,
           4.1, 4.2, 4.3, 4.5, 4.6, 4.7, 4.9, 5.0, 5.1, 5.3,
           5.4, 5.5, 5.7, 5.8, 5.9, 6.1, 6.2, 6.3, 6.5, 6.6,
           6.7, 6.9, 7.0, 7.1, 7.3, 7.4, 7.5, 7.7, 7.8, 7.9,
           8.1, 8.2, 8.3, 8.5, 8.6, 8.7, 8.9, 9.0, 9.1, 9.3,
           9.4, 9.5, 9.7, 9.8, 9.9, 10.1, 10.2, 10.3, 10.5, 10.6,
           10.7, 10.9, 11.0, 11.1, 11.3, 11.4, 11.5, 11.7, 11.8, 11.9,
           12.1, 12.2, 12.3, 12.5, 12.6, 12.7, 12.9, 13.0, 13.1, 13.3,
           13.4, 13.5, 13.7, 13.8, 13.9, 14.1, 14.2, 14.3, 14.5, 14.6,
           14.7, 14.9, 15.0, 15.1, 15.3, 15.4, 15.5, 15.7, 15.8, 15.9,
           16.1, 16.2, 16.3, 16.5, 16.6, 16.7, 16.9, 17.0, 17.1, 17.3,
           17.4, 17.5, 17.7, 17.8, 17.9, 18.1, 18.2, 18.3, 18.5, 18.6,
           18.7, 18.9, 19.0, 19.1, 19.3, 19.4, 19.5, 19.7, 19.8, 19.9,
           20.1, 20.2, 20.3, 20.5, 20.6, 20.7, 20.9, 21.0, 21.1, 21.3,
           21.4, 21.5, 21.7, 21.8, 21.9, 22.1, 22.2, 22.3, 22.5, 22.6,
           22.7, 22.9, 23.0, 23.1, 23.3, 23.4, 23.5, 23.7, 23.8, 23.9,
           24.1, 24.2, 24.3, 24.5, 24.6, 24.7, 24.9, 25.0, 25.1, 25.3,
           25.4, 25.5, 25.7, 25.8, 25.9, 26.1, 26.2, 26.3, 26.5, 26.6,
           26.7, 26.9, 27.0, 27.1, 27.3, 27.4, 27.5, 27.7, 27.8, 27.9,
           28.1, 28.2, 28.3, 28.5, 28.6, 28.7, 28.9, 29.0, 29.2, 29.4,
           29.6, 29.8, 30.0, 30.2, 30.4, 30.6, 30.8, 31.0, 31.1, 31.3,
           0.4, 0.8, 1.2, 1.6, 2.0, 2.4, 2.8, 3.2, 3.6, 4.0, 4.4, 4.8, 5.2, 5.6, 6.0, 6.4, 6.8, 7.2, 7.6, 8.0,
           8.4, 8.8, 9.2, 9.6, 10.0, 10.4, 10.8, 11.2, 11.6, 12.0, 12.4, 12.8, 13.2, 13.6, 14.0, 14.4, 14.8, 15.2, 15.6, 16.0,
           16.4, 16.8, 17.2, 17.6, 18.0, 18.4, 18.8, 19.2, 19.6, 20.0, 20.4, 20.8, 21.2, 21.6, 22.0, 22.4, 22.8, 23.2, 23.6, 24.0,
           24.4, 24.8, 25.2, 25.6, 26.0, 26.4, 26.8, 27.2, 27.6, 28.0, 28.4, 28.8]
b230_by = [-0.3, 0.2, 0.6, -0.6, 0.0, 0.4, -0.2, 0.8, -0.8, 0.3,
           -0.1, 0.5, -0.5, 0.1, 0.9, -0.3, 0.3, -0.9, 0.6, 0.0,
           -0.6, 0.4, -0.1, 0.8, 0.2, -0.4, 1.0, -0.8, 0.5, 0.0,
           -0.3, 0.7, -0.7, 0.3, -0.1, 1.0, 0.1, -0.5, 0.6, -0.2,
           0.4, -0.9, 0.0, 0.8, -0.4, 0.3, -0.7, 0.6, -0.1, 0.2,
           -0.6, 0.5, -0.2, 0.9, 0.1, -0.8, 0.4, -0.3, 0.7, -0.1,
           0.3, -0.5, 0.8, 0.0, -0.9, 0.5, -0.2, 0.6, -0.6, 0.2,
           -0.3, 0.9, -0.7, 0.3, -0.1, 0.6, -0.4, 1.0, 0.1, -0.8,
           0.4, -0.2, 0.7, -0.5, 0.0, 0.8, -0.9, 0.3, -0.3, 0.6,
           -0.1, 0.5, -0.7, 0.2, -0.4, 1.0, 0.0, -0.6, 0.4, -0.2,
           0.7, -0.9, 0.3, -0.3, 0.6, -0.1, 0.9, -0.5, 0.2, -0.8,
           0.4, -0.2, 0.8, -0.6, 0.1, -0.3, 0.6, -1.0, 0.3, -0.1,
           0.9, -0.5, 0.2, -0.2, 0.5, -0.8, 0.0, 0.7, -0.4, 0.3,
           -0.7, 0.4, -0.1, 1.0, -0.3, 0.2, -0.9, 0.6, -0.2, 0.1,
           0.8, -0.5, 0.3, -0.1, 0.5, -0.7, 0.0, 0.9, -0.3, 0.4,
           -0.6, 0.2, -0.2, 0.7, -1.0, 0.1, 0.5, -0.4, 1.1, -0.1,
           0.3, -0.7, 0.6, -0.2, -0.9, 0.4, 0.0, -0.5, 0.8, -0.3,
           0.2, -1.1, 0.6, -0.4, 0.1, 1.0, -0.7, 0.3, -0.1, 0.7,
           -0.5, 0.2, -0.9, 0.5, -0.2, 0.9, 0.0, -0.6, 0.4, -0.3,
           0.7, -0.8, 0.1, 1.1, -0.4, 0.3, -1.0, 0.6, -0.1, 0.2,
           -0.6, 0.8, -0.2, 0.4, -0.9, 0.1, 0.6, -0.4, 1.0, -0.1,
           0.3, -0.7, 0.7, -0.3, 0.2, -0.6, 0.5, -0.2, 0.0, 0.4,
           -0.3, 0.6, 0.1, -0.4, 0.9, 0.3, 0.7, 0.5, 0.9, 0.6,
           0.1, -0.2, 0.3, -0.4, 0.2, -0.1, 0.4, -0.3, 0.2, -0.5, 0.1, -0.2, 0.3, -0.4, 0.0, 0.2, -0.3, 0.1, -0.5, 0.3,
           -0.2, 0.1, -0.4, 0.2, -0.1, 0.3, -0.5, 0.0, 0.2, -0.3, 0.1, -0.6, 0.3, -0.2, 0.0, -0.4, 0.2, -0.5, 0.1, -0.3,
           0.3, -0.6, 0.0, -0.2, 0.2, -0.5, 0.1, -0.3, 0.3, -0.6, -0.1, 0.2, -0.4, 0.0, -0.7, 0.2, -0.3, 0.1, -0.6, -0.1,
           0.3, -0.4, 0.0, -0.6, 0.2, -0.3, -0.1, 0.4, -0.5, 0.0, -0.2, -0.6]
b230_be = [175, 150, 120, 165, 95, 180, 140, 110, 160, 75,
           130, 170, 100, 155, 115, 185, 60, 145, 125, 165,
           140, 105, 175, 150, 120, 160, 180, 90, 155, 130,
           165, 110, 145, 175, 70, 150, 125, 160, 135, 100,
           150, 170, 115, 130, 155, 95, 165, 120, 140, 105,
           125, 145, 80, 110, 160, 100, 130, 115, 90, 135,
           105, 125, 70, 115, 95, 130, 60, 110, 85, 100,
           75, 40, 105, 55, 95, 35, 70, 110, 45, 90,
           30, 100, 55, 75, 40, 85, 105, 25, 65, 95,
           50, 80, 35, 100, 60, 25, 90, 45, 70, 30,
           85, 40, 65, 95, 25, 55, 75, 35, 100, 45,
           30, 70, 40, 85, 25, 60, 35, 75, 45, 20,
           55, 30, 70, 40, 95, 25, 65, 35, 50, 80,
           30, 60, 45, 25, 70, 35, 55, 40, 20, 65,
           40, 30, 75, 25, 50, 35, 65, 20, 45, 30,
           55, 25, 40, 70, 30, 20, 45, 35, 25, 60,
           30, 20, 45, 25, 35, 70, 20, 40, 25, 30,
           20, 35, 25, 45, 30, 20, 40, 65, 25, 30,
           20, 30, 40, 25, 35, 20, 60, 30, 25, 40,
           30, 20, 45, 25, 35, 20, 40, 30, 70, 25,
           20, 35, 25, 45, 30, 20, 40, 25, 35, 30,
           25, 40, 20, 35, 30, 45, 25, 20, 35, 30,
           20, 35, 25, 30, 40, 25, 20, 35, 30, 25,
           160, 135, 180, 120, 150, 170, 110, 145, 165, 130, 155, 100, 175, 125, 140, 115, 160, 95, 130, 105,
           120, 80, 100, 60, 90, 45, 75, 55, 40, 85, 30, 65, 50, 35, 70, 25, 45, 60, 30, 40,
           55, 25, 35, 70, 30, 45, 25, 40, 20, 35, 50, 25, 30, 45, 20, 35, 25, 40, 30, 20,
           35, 25, 45, 20, 30, 25, 35, 20, 40, 25, 30, 20]
b230_cx = [0.25, 0.7, 1.15, 1.6, 2.05, 2.5, 2.95, 3.4, 3.85, 4.3,
           4.75, 5.2, 5.65, 6.1, 6.55, 7.0, 7.45, 7.9, 8.35, 8.8,
           9.25, 9.7, 10.15, 10.6, 11.05, 11.5, 11.95, 12.4, 12.85, 13.3,
           13.75, 14.2, 14.65, 15.1, 15.55, 16.0, 16.45, 16.9, 17.35, 17.8,
           18.25, 18.7, 19.15, 19.6, 20.05, 20.5, 20.95, 21.4, 21.85, 22.3,
           22.75, 23.2, 23.65, 24.1, 24.55, 25.0, 25.45, 25.9, 26.35, 26.8,
           27.25, 27.7, 28.15, 28.6, 29.05, 29.5, 29.95, 30.4, 30.85, 31.3]
b230_cy = [-0.5, 0.6, -0.7, 0.4, -0.6, 0.7, -0.4, 0.5, -0.8, 0.6,
           -0.3, 0.8, -0.6, 0.4, -0.7, 0.6, -0.5, 0.8, -0.4, 0.6,
           -0.7, 0.5, -0.6, 0.8, -0.5, 0.4, -0.8, 0.7, -0.4, 0.6,
           -0.7, 0.5, -0.8, 0.6, -0.4, 0.7, -0.6, 0.5, -0.8, 0.6,
           -0.5, 0.7, -0.7, 0.4, -0.9, 0.6, -0.5, 0.8, -0.7, 0.5,
           -0.8, 0.6, -0.6, 0.8, -0.4, 0.7, -0.9, 0.5, -0.6, 0.7,
           -0.5, 0.8, -0.4, 0.6, -0.7, 0.5, 0.3, -0.2, 0.7, 1.0]
b230_ce = [170, 145, 160, 125, 180, 110, 150, 165, 130, 95,
           155, 140, 120, 170, 105, 150, 135, 90, 125, 160,
           115, 100, 80, 130, 70, 95, 110, 55, 85, 65,
           100, 45, 75, 60, 90, 35, 70, 50, 40, 80,
           30, 55, 45, 65, 35, 25, 50, 40, 30, 60,
           45, 25, 35, 50, 20, 40, 30, 45, 25, 35,
           20, 40, 30, 25, 45, 35, 30, 25, 40, 30]
b230_ox = [7.75, 9.9, 11.4, 11.8, 14.9, 15.3, 16.2, 17.5, 18.9, 19.1, 20.7, 19.4, 20.3, 22.3, 23.7, 24.8, 26.4, 27.4, 28.3, 28.5,
           27.2, 29.9, 30.9, 30.9, 30.4, 25.0, 21.0, 17.0, 12.9, 10.7, 5.2, 2.5, 8.0, 11.4, 11.4, 12.4, 13.0, 13.6, 14.6, 16.0,
           16.6, 17.2, 16.5, 17.6, 18.6, 18.2, 20.0, 20.4, 20.4, 20.2, 20.7, 20.8, 21.9, 15.0, 22.2, 23.3, 23.6, 25.6, 27.2, 30.4,
           23.0, 25.0, 28.0, 9.0, 6.5, 3.5]
b230_oy = [3.25, 2.08, 1.77, 1.77, 1.68, 3.86, 3.2, 3.0, 3.46, 4.85, 4.95, 2.0, 2.2, 1.77, 2.3, 4.0, 2.6, 3.2, 3.86, 2.45,
           1.83, 1.7, 0.7, 1.1, -0.3, 1.3, 1.5, 1.4, 1.3, 1.2, 1.1, 1.1, -1.8, -1.9, -1.6, -1.7, -1.8, -1.8, -1.7, -1.9,
           -2.5, -1.8, -1.8, -3.0, -3.7, -2.1, -2.1, -2.8, -3.3, -3.4, -3.7, -4.5, -4.95, -4.5, -1.7, -2.4, -2.4, -2.9, -1.8, -2.8,
           -1.3, -1.3, -1.2, -1.2, -1.1, -1.0]
b230_oe = [70, 100, 30, 25, 95, 30, 25, 100, 20, 30, 25, 95, 100, 30, 35, 25, 65, 30, 35, 25,
           40, 100, 30, 25, 30, 30, 40, 70, 90, 80, 160, 150, 100, 30, 25, 35, 30, 70, 65, 100,
           40, 30, 35, 70, 70, 30, 35, 30, 25, 70, 30, 25, 30, 100, 30, 25, 35, 30, 25, 30,
           40, 30, 35, 110, 150, 170]

panel_tags = ["a", "b", "", "", "", ""]
energy_labels = ["160 MeV", "160 MeV", "200 MeV", "200 MeV", "230 MeV", "230 MeV"]

# ---------------- styling ----------------
BLUE = "rgb(183,208,229)"
AXC = "#3a3a3a"
TXT = "#333333"
JET = [[0.0, "rgb(0,0,128)"], [0.11, "rgb(0,0,255)"], [0.125, "rgb(0,0,255)"],
       [0.34, "rgb(0,219,255)"], [0.35, "rgb(0,229,247)"], [0.375, "rgb(20,255,226)"],
       [0.64, "rgb(239,255,8)"], [0.65, "rgb(247,245,0)"], [0.66, "rgb(255,236,0)"],
       [0.89, "rgb(255,19,0)"], [0.91, "rgb(232,0,0)"], [1.0, "rgb(128,0,0)"]]


def join(*parts):
    out = []
    for p in parts:
        out.extend(p)
    return out


def trio(bx, by, be, cx, cy, ce, ox, oy, oe):
    xs, ys, es = [], [], []
    for a, b, c in ((bx, by, be), (cx, cy, ce), (ox, oy, oe)):
        n = min(len(a), len(b), len(c))
        xs += a[:n]
        ys += b[:n]
        es += c[:n]
    return xs, ys, es


panels = [
    trio(a160_bx, a160_by, a160_be, a160_cx, a160_cy, a160_ce, a160_ox, a160_oy, a160_oe) + (dose_x160, dose_160),
    trio(b160_bx, b160_by, b160_be, b160_cx, b160_cy, b160_ce, b160_ox, b160_oy, b160_oe) + (dose_x160, dose_160),
    trio(a200_bx, a200_by, a200_be, a200_cx, a200_cy, a200_ce, a200_ox, a200_oy, a200_oe) + (dose_x200, dose_200),
    trio(b200_bx, b200_by, b200_be, b200_cx, b200_cy, b200_ce, b200_ox, b200_oy, b200_oe) + (dose_x200, dose_200),
    trio(a230_bx, a230_by, a230_be, a230_cx, a230_cy, a230_ce, a230_ox, a230_oy, a230_oe) + (dose_x230, dose_230),
    trio(b230_bx, b230_by, b230_be, b230_cx, b230_cy, b230_ce, b230_ox, b230_oy, b230_oe) + (dose_x230, dose_230),
]

col_px = [(63, 469), (536, 941)]
row_px = [(9, 118), (141, 249), (273, 382)]


def fx(p):
    return p / W


def fy(p):
    return 1 - p / H


fig = go.Figure()
layout = {}
shapes = []
annotations = []

for i, (px_, py_, pe_, dx, dy) in enumerate(panels):
    r, c = divmod(i, 2)
    xs = "" if i == 0 else str(i + 1)
    yl = "" if i == 0 else str(2 * i + 1)
    yr = str(2 * i + 2)
    xdom = [fx(col_px[c][0]), fx(col_px[c][1])]
    ydom = [fy(row_px[r][1]), fy(row_px[r][0])]

    layout["xaxis" + xs] = dict(
        domain=xdom, anchor="y" + yl, range=[-1.75, 36.8],
        tickvals=[0, 5, 10, 15, 20, 25, 30, 35], ticks="inside", ticklen=5,
        tickcolor=AXC, showline=True, linecolor=AXC, linewidth=1.2, mirror=True,
        showgrid=False, zeroline=False,
        tickfont=dict(family=FONT, size=10.5, color=TXT))
    layout["yaxis" + yl] = dict(
        domain=ydom, anchor="x" + xs, range=[-5, 5],
        tickvals=[-5, -2.5, 0, 2.5, 5],
        ticktext=["\u22125.0", "\u22122.5", "0.0", "2.5", "5.0"],
        ticks="outside", ticklen=4, tickcolor=AXC,
        showline=True, linecolor=AXC, linewidth=1.2,
        showgrid=False, zeroline=False,
        tickfont=dict(family=FONT, size=10.5, color=TXT))
    layout["yaxis" + yr] = dict(
        anchor="x" + xs, overlaying="y" + yl, side="right", range=[0, 100],
        tickvals=[0, 25, 50, 75, 100], ticks="inside", ticklen=5, tickcolor=AXC,
        showline=True, linecolor=AXC, linewidth=1.2,
        showgrid=False, zeroline=False,
        tickfont=dict(family=FONT, size=10.5, color=TXT))

    shapes.append(dict(type="rect", xref="x" + xs, yref="y" + yl,
                       x0=0, x1=35, y0=-5, y1=5, fillcolor=BLUE,
                       line=dict(color="#4a4a4a", width=2.2), layer="below"))

    fig.add_trace(go.Scatter(
        x=px_, y=py_, xaxis="x" + xs, yaxis="y" + yl, mode="markers",
        marker=dict(size=6, color=pe_, colorscale=JET, cmin=0, cmax=200,
                    line=dict(width=0), showscale=(i == 0),
                    colorbar=dict(x=fx(1005), xanchor="left", y=fy(23), yanchor="top",
                                  len=340 / H, lenmode="fraction", thickness=33,
                                  thicknessmode="pixels", xpad=0, ypad=0,
                                  outlinewidth=1, outlinecolor=AXC,
                                  tickvals=list(range(0, 201, 25)), ticks="outside",
                                  ticklen=4, tickcolor=AXC,
                                  tickfont=dict(family=FONT, size=10.5, color=TXT))),
        showlegend=False, hoverinfo="skip"))
    fig.add_trace(go.Scatter(
        x=dx, y=dy, xaxis="x" + xs, yaxis="y" + yr, mode="lines",
        line=dict(color="rgba(90,90,90,0.85)", width=2),
        showlegend=False, hoverinfo="skip"))

    annotations.append(dict(
        xref="x" + xs, yref="y" + yl, x=3.2, y=-3.85, xanchor="center", yanchor="middle",
        text=energy_labels[i], showarrow=False, font=dict(family=FONT, size=11.5, color=TXT),
        bordercolor="#222222", borderwidth=1.3, borderpad=1.5,
        bgcolor="rgba(255,255,255,0.2)"))
    if panel_tags[i]:
        annotations.append(dict(
            xref="paper", yref="paper", x=fx(85 if c == 0 else 557), y=fy(24),
            xanchor="left", yanchor="middle", text=panel_tags[i], showarrow=False,
            font=dict(family=FONT, size=30, color="black")))

# titles
TF = dict(family=FONT, size=13.7, color=TXT)
annotations += [
    dict(xref="paper", yref="paper", x=fx(15), y=fy(192), xanchor="center", yanchor="middle",
         text="Distance from primary beam axis [cm]", textangle=-90, showarrow=False, font=TF),
    dict(xref="paper", yref="paper", x=fx(980), y=fy(197), xanchor="center", yanchor="middle",
         text="Relative dose [%]", textangle=-90, showarrow=False, font=TF),
    dict(xref="paper", yref="paper", x=fx(1075), y=fy(186), xanchor="center", yanchor="middle",
         text="Neutron energy [MeV]", textangle=-90, showarrow=False, font=TF),
    dict(xref="paper", yref="paper", x=fx(266), y=fy(407), xanchor="center", yanchor="middle",
         text="Depth in water [cm]", showarrow=False, font=TF),
    dict(xref="paper", yref="paper", x=fx(738), y=fy(407), xanchor="center", yanchor="middle",
         text="Depth in water [cm]", showarrow=False, font=TF),
]

fig.update_layout(
    width=W, height=H, margin=dict(l=0, r=0, t=0, b=0, autoexpand=False),
    paper_bgcolor="white", plot_bgcolor="white",
    shapes=shapes, annotations=annotations,
    font=dict(family=FONT, color=TXT), **layout)

fig.write_html(
    "out.html",
    config={"displayModeBar": False},
    post_script="document.documentElement.style.margin='0';document.body.style.margin='0';"
                "document.body.style.padding='0';document.body.style.overflow='hidden';")
